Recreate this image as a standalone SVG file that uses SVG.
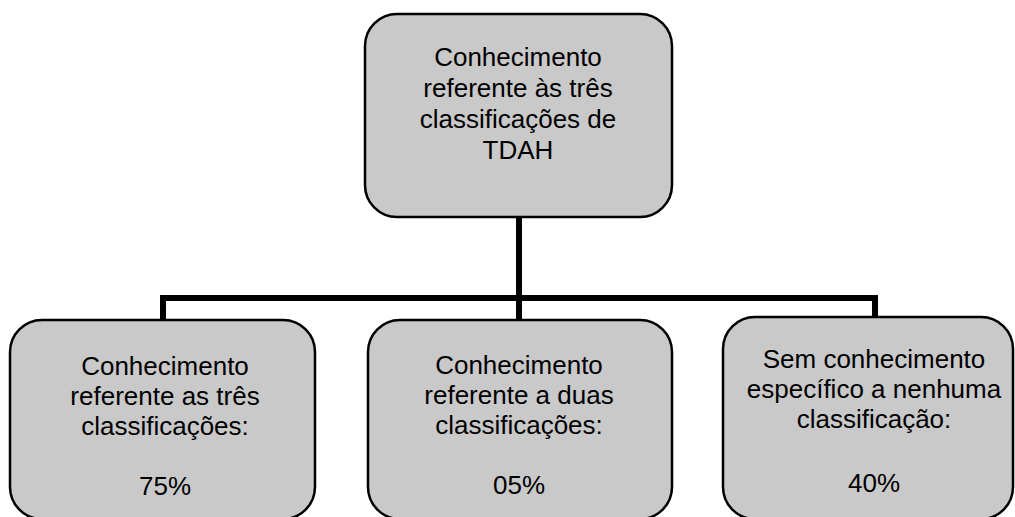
<svg xmlns="http://www.w3.org/2000/svg" width="1015" height="517" viewBox="0 0 1015 517">
<style>
.box{fill:#c9c9c9;stroke:#000;stroke-width:2.5}
.t{font-family:"Liberation Sans",Arial,sans-serif;font-size:26px;fill:#000;text-anchor:middle}
.c{fill:none;stroke:#000;stroke-width:6;stroke-linejoin:miter}
</style>
<rect width="1015" height="517" fill="#fff"/>
<g id="connectors">
<path class="c" d="M519,217 V320"/>
<path class="c" d="M163,321 V298 H875 V318"/>
</g>
<g id="top">
<rect class="box" x="365" y="14" width="307" height="203" rx="32"/>
<text class="t" x="518" y="66">Conhecimento</text>
<text class="t" x="518" y="97">referente às três</text>
<text class="t" x="518" y="128">classificações de</text>
<text class="t" x="518" y="159">TDAH</text>
</g>
<g id="left">
<rect class="box" x="10" y="320" width="305" height="199" rx="32"/>
<text class="t" x="165" y="375">Conhecimento</text>
<text class="t" x="165" y="405">referente as três</text>
<text class="t" x="165" y="435">classificações:</text>
<text class="t" x="165" y="495">75%</text>
</g>
<g id="middle">
<rect class="box" x="368" y="320" width="304" height="199" rx="32"/>
<text class="t" x="519" y="374">Conhecimento</text>
<text class="t" x="519" y="404">referente a duas</text>
<text class="t" x="519" y="434">classificações:</text>
<text class="t" x="519" y="494">05%</text>
</g>
<g id="right">
<rect class="box" x="723" y="317" width="290" height="202" rx="32"/>
<text class="t" x="874" y="368">Sem conhecimento</text>
<text class="t" x="874" y="398">específico a nenhuma</text>
<text class="t" x="874" y="428">classificação:</text>
<text class="t" x="874" y="492">40%</text>
</g>
</svg>
